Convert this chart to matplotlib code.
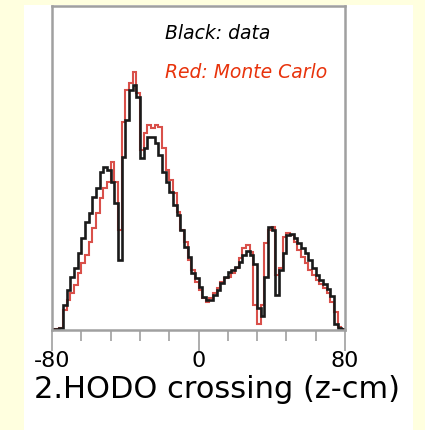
import matplotlib.pyplot as plt
import numpy as np
from matplotlib.patches import Rectangle

# 2 cm bins from -80 to 80
BIN_EDGES = np.arange(-80, 82, 2)

DATA_COUNTS = [
    1, 1, 2, 25, 40, 53, 62, 77, 92, 108,
    117, 133, 142, 158, 163, 160, 148, 127, 70, 173,
    210, 240, 245, 233, 172, 182, 193, 193, 187, 175,
    158, 148, 138, 125, 115, 100, 83, 73, 57, 52,
    43, 33, 30, 30, 35, 40, 47, 53, 58, 60,
    63, 68, 75, 79, 75, 66, 22, 14, 53, 103,
    100, 35, 60, 77, 95, 96, 92, 87, 82, 77,
    70, 62, 55, 50, 46, 41, 34, 6, 2, 1,
]

MC_COUNTS = [
    1, 1, 2, 20, 30, 37, 45, 57, 67, 75,
    88, 102, 117, 132, 142, 148, 168, 148, 100, 208,
    240, 247, 258, 237, 180, 197, 205, 202, 205, 203,
    182, 160, 150, 137, 118, 100, 88, 70, 60, 48,
    40, 32, 28, 32, 37, 42, 48, 52, 53, 57,
    62, 72, 82, 85, 78, 25, 6, 25, 87, 100,
    103, 55, 62, 93, 97, 95, 88, 80, 73, 67,
    60, 55, 50, 46, 42, 37, 28, 18, 3, 1,
]

MAJOR_TICKS = [-80, 0, 80]
MINOR_TICKS = np.arange(-80, 81, 16)

fig = plt.figure(figsize=(4.25, 4.3), dpi=100)
fig.patch.set_facecolor("#ffffdf")
# white panel behind the plot
fig.add_artist(Rectangle((24 / 425, 0), (413 - 24) / 425, 425 / 430,
                         transform=fig.transFigure, facecolor="white",
                         edgecolor="none", zorder=0))

ax = fig.add_axes([52 / 425, 100 / 430, 293 / 425, 324 / 430])
ax.set_facecolor("white")

ax.stairs(MC_COUNTS, BIN_EDGES, color="#d9504a", linewidth=1.5, baseline=0)
ax.stairs(DATA_COUNTS, BIN_EDGES, color="#1a1a1a", linewidth=1.9, baseline=0)

ax.set_xlim(-80, 80)
ax.set_ylim(0, 324)
ax.set_yticks([])

for s in ax.spines.values():
    s.set_color("#a0a0a0")
    s.set_linewidth(1.8)

ax.set_xticks(MAJOR_TICKS)
ax.set_xticks(MINOR_TICKS, minor=True)
ax.tick_params(axis="x", which="major", length=15, width=1.2, color="#a0a0a0",
               labelsize=16, pad=0)
ax.tick_params(axis="x", which="minor", length=8, width=1.2, color="#a0a0a0")
ax.set_xticklabels(["-80", "0", "80"], family="DejaVu Sans")

ax.text(0.385, 0.915, "Black: data", transform=ax.transAxes, fontsize=13.5,
        style="italic", family="DejaVu Sans", color="black", va="center")
ax.text(0.385, 0.795, "Red: Monte Carlo", transform=ax.transAxes, fontsize=13.5,
        style="italic", family="DejaVu Sans", color="#e8330c", va="center")

fig.text(217 / 425, 1 - 390 / 430, "2.HODO crossing (z-cm)", ha="center",
         va="center", fontsize=22, family="DejaVu Sans")

fig.savefig("out.png", dpi=100)
